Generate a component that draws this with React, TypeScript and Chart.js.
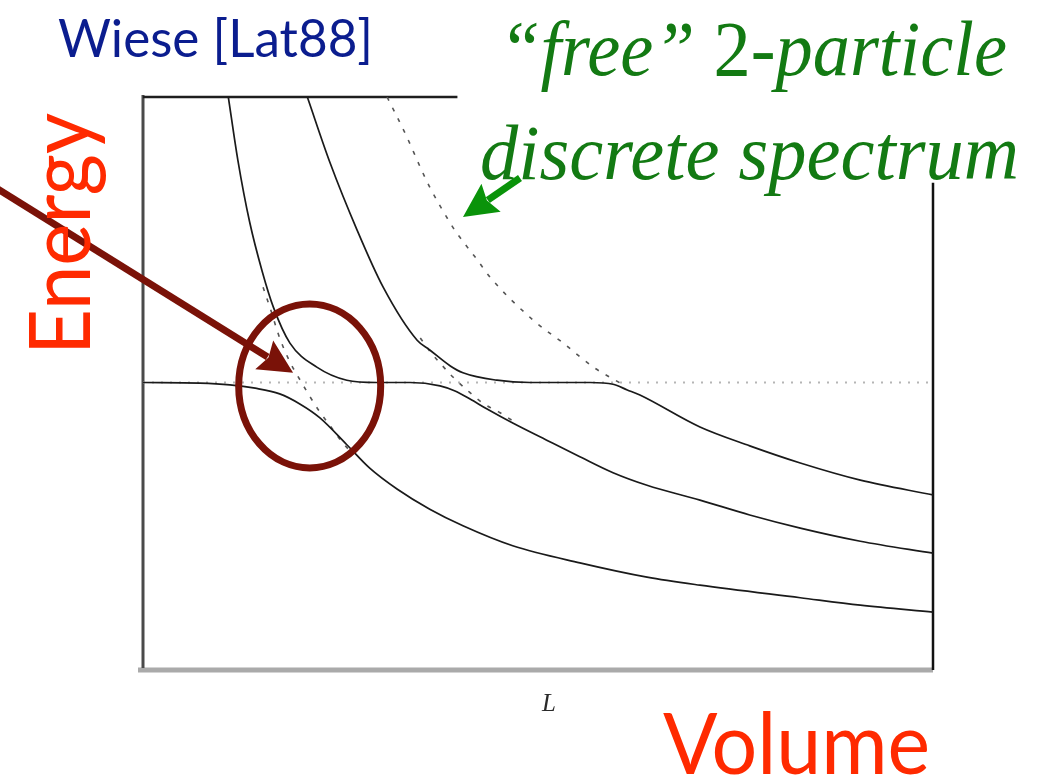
import React, { useEffect, useRef } from "react";
import { Chart, registerables } from "chart.js";

Chart.register(...registerables);

// Finite-volume spectrum: energy levels vs. box size L (arbitrary units)

// Interacting levels (solid)
const level1L = [0, 0.72, 1.1, 1.42, 1.73, 1.99, 2.24, 2.58, 2.87, 3.22, 3.63, 4.05, 4.68, 5.53, 6.38, 7.05, 8.32, 9.08, 10.0];
const level1E = [5.0, 4.99, 4.96, 4.9, 4.8, 4.62, 4.38, 3.91, 3.5, 3.13, 2.78, 2.49, 2.14, 1.84, 1.59, 1.45, 1.23, 1.1, 0.98];

const level2L = [1.08, 1.2, 1.35, 1.51, 1.65, 1.86, 2.2, 2.58, 2.96, 3.38, 3.76, 3.95, 4.14, 4.35, 4.68, 5.11, 5.53, 5.95, 6.38, 7.05, 7.68, 8.32, 9.08, 10.0];
const level2E = [10.0, 8.9, 7.81, 6.94, 6.32, 5.69, 5.27, 5.04, 5.0, 5.0, 4.94, 4.85, 4.71, 4.54, 4.29, 3.99, 3.7, 3.42, 3.2, 2.94, 2.68, 2.45, 2.22, 2.01];

const level3L = [2.08, 2.37, 2.71, 3.04, 3.47, 3.63, 3.89, 4.05, 4.48, 4.9, 5.28, 5.66, 5.95, 6.13, 6.29, 7.05, 7.68, 8.32, 9.08, 10.0];
const level3E = [10.0, 8.84, 7.67, 6.67, 5.74, 5.57, 5.29, 5.17, 5.04, 5.0, 5.0, 5.0, 4.97, 4.87, 4.78, 4.22, 3.89, 3.59, 3.29, 3.03];

// Free two-particle levels (dashed), where they separate from the solid ones
const free1L = [1.52, 1.61, 1.73, 1.86, 1.99, 2.11, 2.24, 2.37, 2.49, 2.62];
const free1E = [6.67, 6.3, 5.78, 5.36, 5.04, 4.76, 4.48, 4.24, 4.01, 3.8];

const free2L = [3.51, 3.63, 3.76, 3.92, 4.1, 4.3, 4.52, 4.68];
const free2E = [5.78, 5.55, 5.34, 5.1, 4.87, 4.64, 4.47, 4.33];

const free3L = [3.09, 3.34, 3.51, 3.63, 3.89, 3.97, 4.23, 4.39, 4.94, 5.32, 5.7, 6.04];
const free3E = [10.0, 9.3, 8.77, 8.42, 7.79, 7.62, 7.15, 6.85, 6.09, 5.69, 5.27, 4.99];

// Resonance energy (dotted)
const resonanceL = [0, 10];
const resonanceE = [5.0, 5.0];

const pts = (xs: number[], ys: number[]) => xs.map((x, i) => ({ x, y: ys[i] }));

const SANS = "Lato, 'Open Sans', sans-serif";
const SERIF = "'Liberation Serif', 'DejaVu Serif', serif";

function fitText(
  ctx: CanvasRenderingContext2D,
  runs: { text: string; font: string }[],
  x: number,
  baseline: number,
  width: number,
  color: string
) {
  let total = 0;
  const widths = runs.map((r) => {
    ctx.font = r.font;
    const w = ctx.measureText(r.text).width;
    total += w;
    return w;
  });
  ctx.save();
  ctx.translate(x, baseline);
  ctx.scale(width / total, 1);
  ctx.fillStyle = color;
  ctx.textBaseline = "alphabetic";
  ctx.textAlign = "left";
  let cx = 0;
  runs.forEach((r, i) => {
    ctx.font = r.font;
    ctx.fillText(r.text, cx, 0);
    cx += widths[i];
  });
  ctx.restore();
}

function arrow(
  ctx: CanvasRenderingContext2D,
  x0: number,
  y0: number,
  x1: number,
  y1: number,
  shaft: number,
  headLen: number,
  headHalf: number,
  color: string
) {
  const a = Math.atan2(y1 - y0, x1 - x0);
  const bx = x1 - Math.cos(a) * headLen;
  const by = y1 - Math.sin(a) * headLen;
  ctx.save();
  ctx.strokeStyle = color;
  ctx.fillStyle = color;
  ctx.lineWidth = shaft;
  ctx.lineCap = "butt";
  ctx.beginPath();
  ctx.moveTo(x0, y0);
  ctx.lineTo(bx + Math.cos(a) * 4, by + Math.sin(a) * 4);
  ctx.stroke();
  const nx = -Math.sin(a);
  const ny = Math.cos(a);
  ctx.beginPath();
  ctx.moveTo(x1, y1);
  ctx.lineTo(bx + nx * headHalf, by + ny * headHalf);
  ctx.lineTo(bx + Math.cos(a) * 5, by + Math.sin(a) * 5);
  ctx.lineTo(bx - nx * headHalf, by - ny * headHalf);
  ctx.closePath();
  ctx.fill();
  ctx.restore();
}

const framePlugin = {
  id: "frame",
  beforeDatasetsDraw(chart: any) {
    const { ctx, chartArea, scales } = chart;
    const xs = scales.x;
    const ys = scales.y;
    ctx.save();
    // bottom axis
    ctx.strokeStyle = "#aaaaaa";
    ctx.lineWidth = 5;
    ctx.beginPath();
    ctx.moveTo(chartArea.left - 5, chartArea.bottom + 2);
    ctx.lineTo(chartArea.right, chartArea.bottom + 2);
    ctx.stroke();
    // left axis
    ctx.strokeStyle = "#4a4a4a";
    ctx.lineWidth = 3;
    ctx.beginPath();
    ctx.moveTo(chartArea.left, chartArea.top - 2);
    ctx.lineTo(chartArea.left, chartArea.bottom);
    ctx.stroke();
    // top edge (partial)
    ctx.strokeStyle = "#1e1e1e";
    ctx.lineWidth = 2.5;
    ctx.beginPath();
    ctx.moveTo(chartArea.left, chartArea.top);
    ctx.lineTo(xs.getPixelForValue(3.98), chartArea.top);
    ctx.stroke();
    // right edge (partial)
    ctx.strokeStyle = "#111111";
    ctx.lineWidth = 2.5;
    ctx.beginPath();
    ctx.moveTo(chartArea.right, ys.getPixelForValue(8.5));
    ctx.lineTo(chartArea.right, chartArea.bottom + 2);
    ctx.stroke();
    ctx.restore();
  },
  afterDraw(chart: any) {
    const { ctx, scales } = chart;
    const xs = scales.x;
    const ys = scales.y;
    ctx.save();

    // avoided-crossing marker
    const cx = xs.getPixelForValue(2.11);
    const cy = ys.getPixelForValue(4.94);
    ctx.strokeStyle = "#7a1208";
    ctx.lineWidth = 7;
    ctx.beginPath();
    ctx.ellipse(cx, cy, 71, 82, 0, 0, Math.PI * 2);
    ctx.stroke();

    // pointer into the avoided crossing
    arrow(ctx, -4, 188, xs.getPixelForValue(1.9), ys.getPixelForValue(5.17), 7, 34, 17, "#7a1208");

    // pointer to the free levels
    arrow(ctx, 520, 178, 463, 217, 7, 34, 17, "#0a930a");

    // labels
    fitText(ctx, [{ text: "Wiese [Lat88]", font: `52px ${SANS}` }], 58, 57, 315, "#0b1d8f");

    const green = "#137a13";
    fitText(
      ctx,
      [
        { text: "\u201Cfree\u201D ", font: `italic 78px ${SERIF}` },
        { text: "2", font: `78px ${SERIF}` },
        { text: "-particle", font: `italic 78px ${SERIF}` },
      ],
      499,
      75,
      508,
      green
    );
    fitText(ctx, [{ text: "discrete spectrum", font: `italic 78px ${SERIF}` }], 480, 179, 539, green);

    const red = "#ff2a00";
    fitText(ctx, [{ text: "Volume", font: `86px ${SANS}` }], 663, 774, 267, red);

    ctx.save();
    ctx.translate(90, 355);
    ctx.rotate(-Math.PI / 2);
    fitText(ctx, [{ text: "Energy", font: `86px ${SANS}` }], 0, 0, 242, red);
    ctx.restore();

    ctx.fillStyle = "#2a2a2a";
    ctx.font = `italic 25px ${SERIF}`;
    ctx.textAlign = "center";
    ctx.textBaseline = "alphabetic";
    ctx.fillText("L", 549, 711);

    ctx.restore();
  },
};

export default function App() {
  const ref = useRef<HTMLCanvasElement>(null);

  useEffect(() => {
    const solid = { borderColor: "#1a1a1a", borderWidth: 1.7, pointRadius: 0, cubicInterpolationMode: "monotone" as const, fill: false };
    const dashed = { borderColor: "#555555", borderWidth: 1.6, borderDash: [4, 8], pointRadius: 0, cubicInterpolationMode: "monotone" as const, fill: false };
    const chart = new Chart(ref.current!, {
      type: "line",
      data: {
        datasets: [
          { label: "E1", data: pts(level1L, level1E), ...solid },
          { label: "E2", data: pts(level2L, level2E), ...solid },
          { label: "E3", data: pts(level3L, level3E), ...solid },
          { label: "free n=1", data: pts(free1L, free1E), ...dashed },
          { label: "free n=2", data: pts(free2L, free2E), ...dashed },
          { label: "free n=3", data: pts(free3L, free3E), ...dashed },
          {
            label: "resonance",
            data: pts(resonanceL, resonanceE),
            borderColor: "#b5b5b5",
            borderWidth: 2,
            borderDash: [2, 7],
            pointRadius: 0,
            fill: false,
          },
        ],
      },
      options: {
        responsive: false,
        animation: false,
        layout: { padding: { left: 143, right: 104, top: 97, bottom: 108 } },
        plugins: { legend: { display: false }, tooltip: { enabled: false } },
        scales: {
          x: { type: "linear", min: 0, max: 10, display: false },
          y: { type: "linear", min: 0, max: 10, display: false },
        },
      },
      plugins: [framePlugin],
    });
    return () => chart.destroy();
  }, []);

  return (
    <div style={{ position: "fixed", left: 0, top: 0, width: 1037, height: 776, background: "#ffffff" }}>
      <canvas ref={ref} width={1037} height={776} style={{ display: "block" }} />
    </div>
  );
}
